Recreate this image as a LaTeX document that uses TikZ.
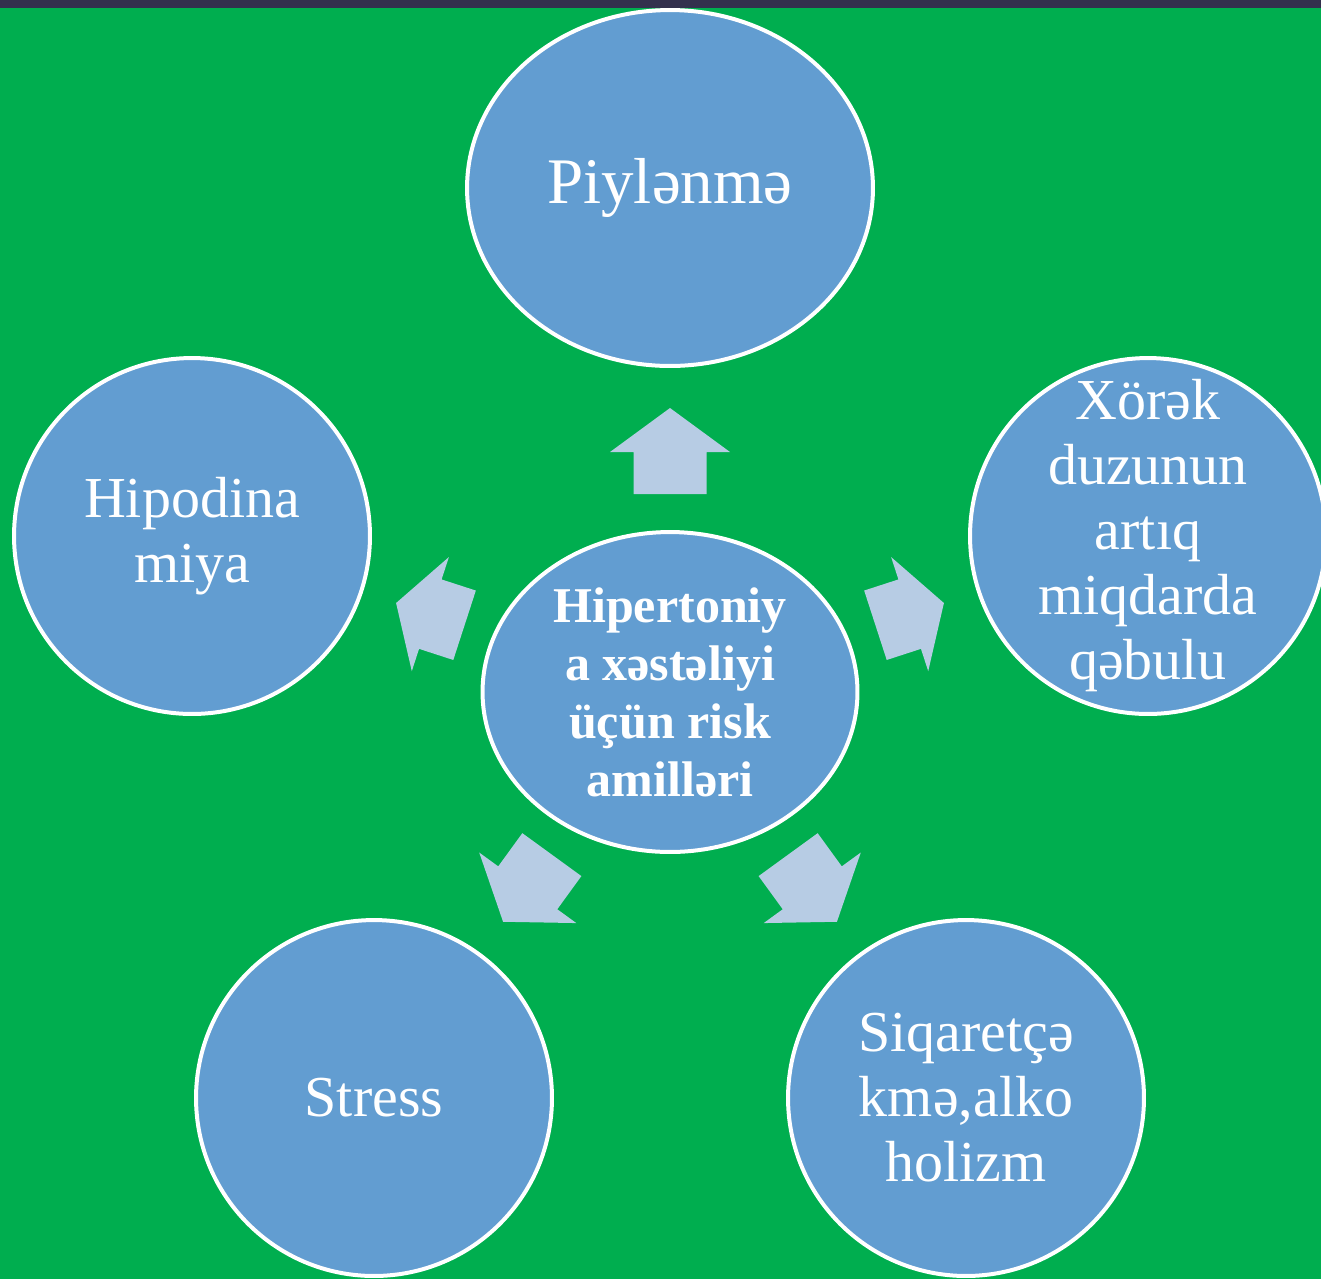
\documentclass[tikz,border=0pt]{standalone}
\usepackage{fontspec}
\setmainfont{Liberation Serif}
\usetikzlibrary{shapes.geometric}
\definecolor{bggreen}{RGB}{0,174,79}
\definecolor{topbar}{RGB}{51,48,77}
\definecolor{bubblec}{RGB}{98,157,209}
\definecolor{arrowc}{RGB}{183,204,228}
\begin{document}
\begin{tikzpicture}[x=0.02cm,y=-0.02cm,
  bubble/.style={ellipse, draw=white, line width=0.08cm, fill=bubblec, inner sep=0pt},
  roundbubble/.style={bubble, minimum width=7.12cm, minimum height=7.12cm},
  lbl/.style={text=white, align=center, inner sep=0pt, font=\fontsize{33}{37}\selectfont},
  blockarrow/.style={fill=arrowc, draw=none}]
\useasboundingbox (0,0) rectangle (1321,1279);
\clip (0,0) rectangle (1321,1279);
\fill[bggreen] (0,0) rectangle (1321,1279);
\fill[topbar] (0,0) rectangle (1321,8);

\node[bubble, minimum width=8.12cm, minimum height=7.12cm] (top) at (670,188) {};
\node[bubble, minimum width=7.5cm, minimum height=6.4cm] (c) at (670,692) {};
\node[roundbubble] (left) at (192,536) {};
\node[roundbubble] (right) at (1148,536) {};
\node[roundbubble] (bl) at (374,1098) {};
\node[roundbubble] (br) at (966,1098) {};

% block arrows: angle / shaft start / head base / tip
\foreach \a/\s/\h/\t in {90/198/240/284, 234/201/242/284, 306/201/242/284, 18/216/252/288, 162/216/252/288} {
  \fill[blockarrow, shift={(c.center)}, rotate=\a]
    (\s,-36.5) -- (\h,-36.5) -- (\h,-60) -- (\t,0) -- (\h,60) -- (\h,36.5) -- (\s,36.5) -- cycle;
}

\node[lbl, font=\fontsize{37}{42}\selectfont] (ttop) at (top.center) {Piylənmə};
\node[lbl, font=\bfseries\fontsize{28.5}{33}\selectfont] (tc) at (c.center) {Hipertoniy\\a xəstəliyi\\üçün risk\\amilləri};
\node[lbl] (tleft) at (left.center) {Hipodina\\miya};
\node[lbl] (tright) at (right.center) {Xörək\\duzunun\\artıq\\miqdarda\\qəbulu};
\node[lbl] (tbl) at (bl.center) {Stress};
\node[lbl] (tbr) at (br.center) {Siqaretçə\\kmə,alko\\holizm};
\end{tikzpicture}
\end{document}
